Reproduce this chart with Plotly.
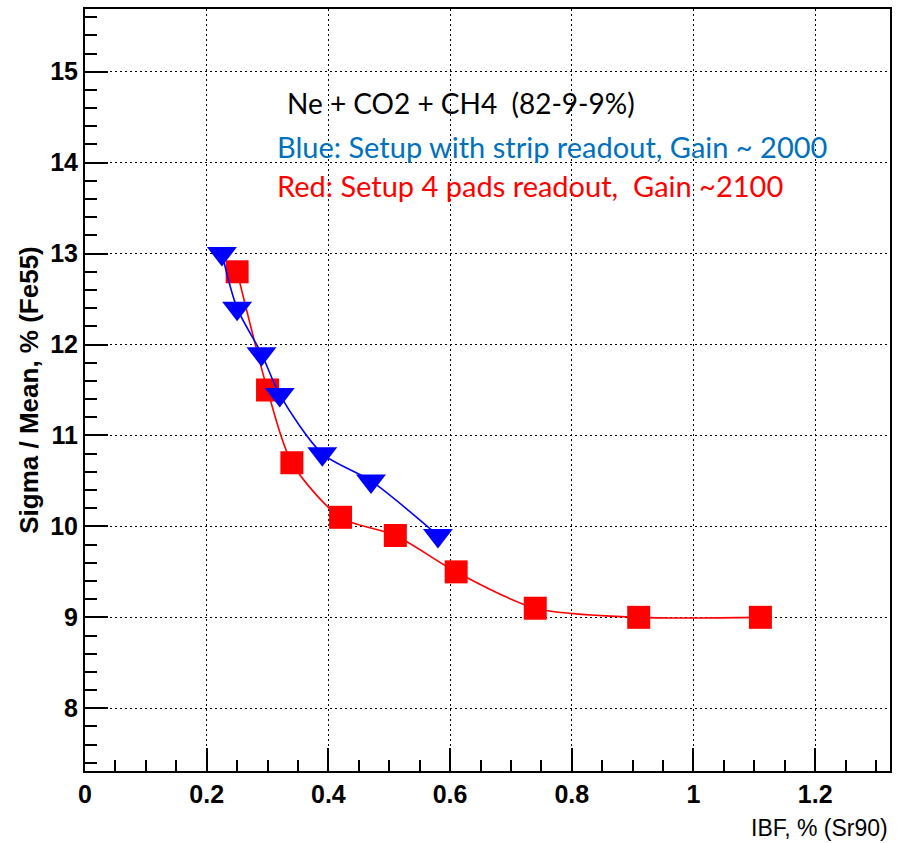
import plotly.graph_objects as go

# Blue: setup with strip readout
blue_x = [0.225, 0.25, 0.29, 0.32, 0.39, 0.47, 0.58]
blue_y = [13.0, 12.4, 11.9, 11.45, 10.8, 10.5, 9.9]

# Red: setup 4 pads readout
red_x = [0.25, 0.30, 0.34, 0.42, 0.51, 0.61, 0.74, 0.91, 1.11]
red_y = [12.8, 11.5, 10.7, 10.1, 9.9, 9.5, 9.1, 9.0, 9.0]

x_ticks = [0, 0.2, 0.4, 0.6, 0.8, 1, 1.2]
x_tick_labels = ["0", "0.2", "0.4", "0.6", "0.8", "1", "1.2"]
y_ticks = [8, 9, 10, 11, 12, 13, 14, 15]
y_tick_labels = ["8", "9", "10", "11", "12", "13", "14", "15"]

title_text = "Ne + CO2 + CH4  (82-9-9%)"
blue_text = "Blue: Setup with strip readout, Gain ~ 2000"
red_text = "Red: Setup 4 pads readout,  Gain ~2100"

ARIAL = "Liberation Sans, Arial, sans-serif"
TXT = "Lato, Carlito, Calibri, sans-serif"

fig = go.Figure()
fig.add_trace(go.Scatter(
    x=red_x, y=red_y, mode="lines+markers",
    line=dict(color="#ff0000", width=1.6, shape="spline", smoothing=0.8),
    marker=dict(symbol="square", size=23, color="#ff0000", line=dict(width=0)),
    showlegend=False, name="Red"))
fig.add_trace(go.Scatter(
    x=blue_x, y=blue_y, mode="lines+markers",
    line=dict(color="#0000ff", width=1.6, shape="spline", smoothing=0.8),
    marker=dict(symbol="triangle-down", size=26, color="#0000ff", line=dict(width=0)),
    showlegend=False, name="Blue"))

axis_common = dict(
    showline=True, linecolor="black", linewidth=2, mirror=True,
    ticks="inside", tickcolor="black", tickwidth=1.5, ticklen=23,
    showgrid=True, gridcolor="black", gridwidth=1, griddash="2px,3px",
    zeroline=False,
)

fig.update_xaxes(
    range=[0, 1.323], tickmode="array", tickvals=x_ticks, ticktext=x_tick_labels,
    tickfont=dict(family=ARIAL, size=25, color="black", weight="bold"),
    minor=dict(dtick=0.05, tick0=0, ticks="inside", ticklen=11, tickcolor="black", tickwidth=1.5, showgrid=False),
    **axis_common)
fig.update_yaxes(
    range=[7.31, 15.69], tickmode="array", tickvals=y_ticks, ticktext=y_tick_labels,
    tickfont=dict(family=ARIAL, size=25, color="black", weight="bold"),
    minor=dict(dtick=0.2, tick0=7, ticks="inside", ticklen=12, tickcolor="black", tickwidth=1.5, showgrid=False),
    title=dict(text="Sigma / Mean, % (Fe55)", font=dict(family=ARIAL, size=26, color="black", weight="bold"), standoff=4),
    **axis_common)

fig.add_annotation(text="IBF, % (Sr90)", xref="paper", yref="paper", x=1.0, y=-0.075,
                   xanchor="right", yanchor="middle", showarrow=False,
                   font=dict(family=ARIAL, size=23, color="black"))

fig.add_annotation(text=title_text, xref="paper", yref="paper", x=0.2484, y=0.877,
                   xanchor="left", yanchor="middle", showarrow=False,
                   font=dict(family=TXT, size=28, color="black"))
fig.add_annotation(text=blue_text, xref="paper", yref="paper", x=0.236, y=0.820,
                   xanchor="left", yanchor="middle", showarrow=False,
                   font=dict(family=TXT, size=29, color="#0070c0"))
fig.add_annotation(text=red_text, xref="paper", yref="paper", x=0.236, y=0.769,
                   xanchor="left", yanchor="middle", showarrow=False,
                   font=dict(family=TXT, size=29, color="#ff0000"))

fig.update_layout(
    width=906, height=843,
    margin=dict(l=85, r=16, t=7, b=72),
    paper_bgcolor="white", plot_bgcolor="white",
    showlegend=False,
)

fig.write_html("out.html")
